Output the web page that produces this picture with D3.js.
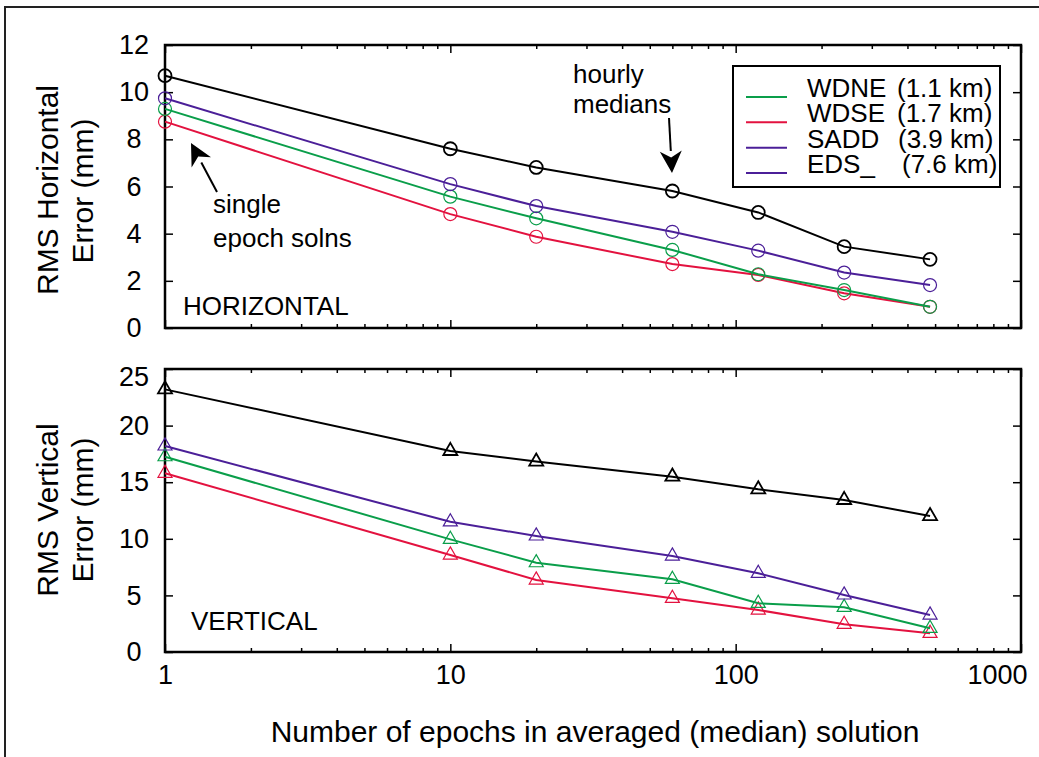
<!DOCTYPE html>
<html>
<head>
<meta charset="utf-8">
<script src="https://cdn.jsdelivr.net/npm/d3@7"></script>
<style>
  body { margin: 0; background: #fff; }
  svg text { font-family: "Liberation Sans", Arial, Helvetica, sans-serif; fill: #000; }
</style>
</head>
<body>
<svg id="chart" width="1039" height="757"></svg>
<script>
// number of epochs in each median solution
var epochs = [1, 10, 20, 60, 120, 240, 480];

// RMS horizontal error (mm)
var horizEDS  = [10.7, 7.6, 6.81, 5.81, 4.9, 3.45, 2.91];
var horizSADD = [9.74, 6.1, 5.17, 4.08, 3.28, 2.35, 1.82];
var horizWDNE = [9.29, 5.57, 4.65, 3.31, 2.28, 1.61, 0.9];
var horizWDSE = [8.75, 4.83, 3.87, 2.71, 2.25, 1.47, 0.9];

// RMS vertical error (mm)
var vertEDS  = [23.2, 17.76, 16.82, 15.49, 14.37, 13.43, 12.01];
var vertSADD = [18.2, 11.5, 10.25, 8.48, 6.95, 5.04, 3.27];
var vertWDNE = [17.25, 9.95, 7.89, 6.42, 4.3, 3.95, 2.09];
var vertWDSE = [15.79, 8.57, 6.36, 4.74, 3.71, 2.45, 1.65];

var legendNames = ["WDNE", "WDSE", "SADD", "EDS_"];
var legendDist  = ["(1.1 km)", "(1.7 km)", "(3.9 km)", "(7.6 km)"];

var xMajor = [1, 10, 100, 1000];
var xMinor = [2,3,4,5,6,7,8,9,20,30,40,50,60,70,80,90,200,300,400,500,600,700,800,900];
var horizTicks = [0, 2, 4, 6, 8, 10, 12];
var vertTicks = [0, 5, 10, 15, 20, 25];

var green = "#0a9e4a", red = "#e3123f", purple = "#4b1f98";

var svg = d3.select("#chart");

// outer frame
svg.append("rect")
  .attr("x", 5).attr("y", 7).attr("width", 1060).attr("height", 780)
  .attr("fill", "none").attr("stroke", "#222").attr("stroke-width", 2);

var x = d3.scaleLog().domain([1, 1000]).range([165, 1021]);

var yH = d3.scaleLinear().domain([0, 12]).range([328, 45]);
var yV = d3.scaleLinear().domain([0, 25]).range([652, 369]);

function triangle(s) {
  var h = s * Math.sqrt(3) / 2;
  return "M0," + (-2 * h / 3) + "L" + (s / 2) + "," + (h / 3) + "L" + (-s / 2) + "," + (h / 3) + "Z";
}

function panel(y, yTicks, showXLabels, series, marker) {
  var top = y.range()[1], bottom = y.range()[0];
  var g = svg.append("g");

  // x axis bottom: majors with labels, minors short
  var bx = g.append("g").attr("transform", "translate(0," + bottom + ")")
    .call(d3.axisBottom(x).tickValues(xMajor).tickSizeInner(-8).tickSizeOuter(0)
      .tickPadding(12).tickFormat(showXLabels ? d3.format("d") : ""));
  g.append("g").attr("transform", "translate(0," + bottom + ")")
    .call(d3.axisBottom(x).tickValues(xMinor).tickSizeInner(-4).tickSizeOuter(0).tickFormat(""));
  g.append("g").attr("transform", "translate(0," + top + ")")
    .call(d3.axisTop(x).tickValues(xMajor).tickSizeInner(-8).tickSizeOuter(0).tickFormat(""));
  g.append("g").attr("transform", "translate(0," + top + ")")
    .call(d3.axisTop(x).tickValues(xMinor).tickSizeInner(-4).tickSizeOuter(0).tickFormat(""));

  bx.selectAll("text").attr("font-size", 27).attr("dy", "0.75em");
  // the 1000 label sits inside the frame in the reference
  bx.selectAll("text").filter(function(d) { return d === 1000; }).attr("dx", -24);

  // y axes
  var ly = g.append("g").attr("transform", "translate(" + x(1) + ",0)")
    .call(d3.axisLeft(y).tickValues(yTicks).tickSizeInner(-8).tickSizeOuter(0).tickPadding(22));
  ly.selectAll("text").attr("font-size", 27).attr("text-anchor", "middle").attr("dx", -9);
  // in the lower panel the top label (25) is nudged down
  if (showXLabels) {
    ly.selectAll("text").filter(function(d) { return y(d) - top < 5; }).attr("dy", "0.62em");
  }
  g.append("g").attr("transform", "translate(" + x(1000) + ",0)")
    .call(d3.axisRight(y).tickValues(yTicks).tickSizeInner(-8).tickSizeOuter(0).tickFormat(""));

  g.selectAll(".domain").remove();
  g.selectAll(".tick line").attr("stroke", "#000").attr("stroke-width", 1.5);

  // frame
  g.append("rect")
    .attr("x", x(1)).attr("y", top)
    .attr("width", x(1000) - x(1)).attr("height", bottom - top)
    .attr("fill", "none").attr("stroke", "#000").attr("stroke-width", 2.5);

  var line = d3.line()
    .x(function(d) { return x(d[0]); })
    .y(function(d) { return y(d[1]); });

  series.forEach(function(s) {
    var pts = d3.zip(epochs, s.values);
    g.append("path").datum(pts)
      .attr("d", line)
      .attr("fill", "none").attr("stroke", s.color).attr("stroke-width", 2);
    if (marker === "circle") {
      g.selectAll(null).data(pts).enter().append("circle")
        .attr("cx", function(d) { return x(d[0]); })
        .attr("cy", function(d) { return y(d[1]); })
        .attr("r", 6.5)
        .attr("fill", "none").attr("stroke", s.color)
        .attr("stroke-width", s.color === "#000" ? 1.8 : 1.2);
    } else {
      g.selectAll(null).data(pts).enter().append("path")
        .attr("d", triangle(14))
        .attr("transform", function(d) { return "translate(" + x(d[0]) + "," + y(d[1]) + ")"; })
        .attr("fill", "none").attr("stroke", s.color)
        .attr("stroke-width", s.color === "#000" ? 1.8 : 1.2);
    }
  });
  return g;
}

var gH = panel(yH, horizTicks, false, [
  { values: horizWDSE, color: red },
  { values: horizWDNE, color: green },
  { values: horizSADD, color: purple },
  { values: horizEDS,  color: "#000" }
], "circle");

var gV = panel(yV, vertTicks, true, [
  { values: vertWDSE, color: red },
  { values: vertWDNE, color: green },
  { values: vertSADD, color: purple },
  { values: vertEDS,  color: "#000" }
], "triangle");

// panel labels
svg.append("text").attr("x", 183).attr("y", 315).attr("font-size", 26).text("HORIZONTAL");
svg.append("text").attr("x", 191).attr("y", 630).attr("font-size", 26).text("VERTICAL");

// axis titles
svg.append("text")
  .attr("transform", "translate(58,190) rotate(-90)")
  .attr("text-anchor", "middle").attr("font-size", 30).text("RMS Horizontal");
svg.append("text")
  .attr("transform", "translate(93,191) rotate(-90)")
  .attr("text-anchor", "middle").attr("font-size", 30).text("Error (mm)");
svg.append("text")
  .attr("transform", "translate(58,510) rotate(-90)")
  .attr("text-anchor", "middle").attr("font-size", 30).text("RMS Vertical");
svg.append("text")
  .attr("transform", "translate(93,510) rotate(-90)")
  .attr("text-anchor", "middle").attr("font-size", 30).text("Error (mm)");
svg.append("text")
  .attr("x", 595).attr("y", 742)
  .attr("text-anchor", "middle").attr("font-size", 30)
  .text("Number of epochs in averaged (median) solution");

// annotations with arrows
function arrow(x1, y1, x2, y2) {
  var ang = Math.atan2(y2 - y1, x2 - x1);
  var len = 22, half = 11;
  var bx = x2 - len * Math.cos(ang), by = y2 - len * Math.sin(ang);
  svg.append("line")
    .attr("x1", x1).attr("y1", y1).attr("x2", bx).attr("y2", by)
    .attr("stroke", "#000").attr("stroke-width", 2);
  svg.append("path")
    .attr("d", "M" + x2 + "," + y2 +
      "L" + (bx + half * Math.sin(ang)) + "," + (by - half * Math.cos(ang)) +
      "L" + (bx + 0.3 * len * Math.cos(ang)) + "," + (by + 0.3 * len * Math.sin(ang)) +
      "L" + (bx - half * Math.sin(ang)) + "," + (by + half * Math.cos(ang)) + "Z")
    .attr("fill", "#000");
}

svg.append("text").attr("x", 573).attr("y", 83).attr("font-size", 26).text("hourly");
svg.append("text").attr("x", 573).attr("y", 113).attr("font-size", 26).text("medians");
arrow(669, 118, 672, 173);

svg.append("text").attr("x", 213).attr("y", 213).attr("font-size", 26).text("single");
svg.append("text").attr("x", 213).attr("y", 247).attr("font-size", 26).text("epoch solns");
arrow(217, 192, 191, 143);

// legend
var legendColors = [green, red, purple, purple];
var lg = svg.append("g");
lg.append("rect")
  .attr("x", 733).attr("y", 66).attr("width", 267).attr("height", 121)
  .attr("fill", "#fff").attr("stroke", "#000").attr("stroke-width", 2);
var rowY = d3.scaleLinear().domain([0, 3]).range([97, 173]);
var distX = [897, 897, 898, 902];
legendNames.forEach(function(name, i) {
  lg.append("line")
    .attr("x1", 746).attr("x2", 787)
    .attr("y1", rowY(i)).attr("y2", rowY(i))
    .attr("stroke", legendColors[i]).attr("stroke-width", 2);
  lg.append("text").attr("x", 807).attr("y", rowY(i)).attr("font-size", 26).text(name);
  lg.append("text").attr("x", distX[i]).attr("y", rowY(i)).attr("font-size", 26).text(legendDist[i]);
});
</script>
</body>
</html>
